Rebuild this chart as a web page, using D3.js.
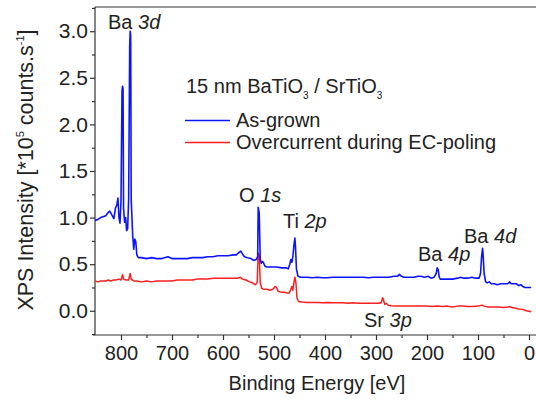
<!DOCTYPE html>
<html><head><meta charset="utf-8">
<script src="https://cdn.jsdelivr.net/npm/d3@7"></script>
<style>body{margin:0;background:#fff}svg{display:block}text{font-family:"Liberation Sans",Arial,sans-serif;fill:#222}</style>
</head><body><svg id="c" width="536" height="401"></svg>
<script>
const xTicks=[800,700,600,500,400,300,200,100,0];
const yTicks=[0.0,0.5,1.0,1.5,2.0,2.5,3.0];
const seriesNames=["As-grown","Overcurrent during EC-poling"];
const seriesColors=["#0a14ff","#ff1e1e"];
const asGrown=[[851,0.97],[845,0.98],[840,1.00],[835,1.01],[830,1.02],[826,1.05],[822,1.07],[818,1.03],[814,0.99],[811,1.10],[808,1.14],[806,1.21],[804,1.00],[802,0.94],[800,1.18],[798,2.36],[797,2.41],[796,2.38],[795,1.10],[793,0.95],[791,1.00],[789,0.86],[787,0.88],[785,1.20],[783,2.83],[782,3.00],[781,2.95],[780,1.19],[777,0.80],[775,0.66],[773,0.77],[771,0.74],[769,0.60],[766,0.57],[760,0.57],[750,0.56],[740,0.57],[730,0.56],[720,0.56],[708,0.58],[700,0.56],[690,0.56],[680,0.56],[670,0.56],[660,0.57],[650,0.57],[640,0.57],[630,0.58],[620,0.58],[610,0.59],[600,0.59],[590,0.59],[580,0.60],[574,0.60],[570,0.62],[565,0.64],[562,0.61],[558,0.58],[552,0.57],[545,0.56],[540,0.54],[535,0.55],[532,0.58],[531,1.11],[529,1.05],[527,0.55],[525,0.51],[523,0.53],[521,0.52],[518,0.48],[514,0.47],[505,0.47],[495,0.47],[485,0.46],[476,0.46],[472,0.45],[469,0.50],[467,0.55],[465,0.52],[463,0.58],[461,0.70],[459,0.78],[458,0.70],[456,0.45],[453,0.37],[448,0.36],[445,0.36],[435,0.36],[425,0.355],[415,0.36],[405,0.355],[395,0.355],[385,0.36],[375,0.36],[365,0.36],[355,0.36],[345,0.36],[335,0.36],[325,0.36],[315,0.355],[305,0.36],[295,0.36],[285,0.36],[275,0.36],[265,0.37],[258,0.37],[254,0.39],[250,0.37],[245,0.36],[235,0.36],[225,0.36],[218,0.37],[212,0.37],[205,0.36],[198,0.37],[192,0.35],[186,0.36],[182,0.40],[180,0.46],[178,0.44],[176,0.36],[174,0.34],[168,0.34],[160,0.34],[150,0.34],[140,0.35],[134,0.36],[128,0.35],[120,0.35],[112,0.36],[105,0.35],[98,0.35],[95,0.40],[93,0.58],[91,0.67],[90,0.60],[88,0.40],[85,0.31],[82,0.30],[78,0.31],[74,0.29],[68,0.29],[62,0.28],[55,0.29],[48,0.29],[42,0.29],[38,0.31],[35,0.29],[30,0.29],[25,0.29],[20,0.27],[16,0.28],[12,0.26],[8,0.25],[4,0.25],[0,0.25],[-4,0.25]];
const overcurrent=[[851,0.32],[845,0.31],[840,0.32],[835,0.32],[830,0.32],[825,0.33],[820,0.32],[815,0.33],[810,0.33],[805,0.34],[800,0.33],[797,0.39],[795,0.34],[790,0.33],[785,0.33],[782,0.40],[780,0.34],[775,0.32],[770,0.32],[760,0.31],[750,0.32],[740,0.31],[730,0.32],[720,0.32],[710,0.32],[700,0.32],[690,0.33],[680,0.33],[670,0.33],[660,0.33],[650,0.34],[640,0.34],[630,0.34],[620,0.35],[610,0.35],[600,0.35],[590,0.35],[580,0.35],[572,0.35],[566,0.36],[562,0.34],[555,0.33],[548,0.31],[542,0.30],[537,0.28],[533,0.30],[531,0.62],[529,0.60],[527,0.30],[524,0.24],[520,0.23],[514,0.23],[508,0.22],[502,0.23],[498,0.26],[495,0.25],[492,0.21],[486,0.20],[480,0.20],[475,0.19],[470,0.19],[467,0.23],[465,0.26],[463,0.22],[461,0.30],[459,0.36],[457,0.30],[455,0.14],[452,0.10],[445,0.095],[435,0.09],[425,0.09],[415,0.09],[405,0.085],[395,0.09],[385,0.085],[375,0.085],[365,0.085],[355,0.08],[345,0.085],[335,0.08],[325,0.08],[315,0.08],[305,0.08],[295,0.08],[290,0.085],[287,0.14],[285,0.11],[283,0.07],[280,0.08],[276,0.06],[270,0.055],[262,0.05],[250,0.05],[240,0.05],[230,0.05],[220,0.05],[210,0.05],[200,0.05],[190,0.045],[180,0.05],[170,0.045],[160,0.05],[150,0.04],[140,0.05],[130,0.05],[120,0.045],[110,0.045],[100,0.05],[92,0.06],[88,0.05],[80,0.04],[70,0.04],[60,0.04],[50,0.035],[42,0.04],[38,0.045],[34,0.035],[28,0.03],[20,0.02],[12,0.015],[6,0.0],[0,-0.005],[-4,-0.01]];

const FS=20;
const svg=d3.select("#c");
const L=95,T=7,B=335,R=539.2;
const x=d3.scaleLinear().domain([851,-20]).range([L,R]);
const y=d3.scaleLinear().domain([-0.26,3.26]).range([B,T]);
const axisCol="#333";

// frame
svg.append("line").attr("x1",L).attr("x2",536).attr("y1",T).attr("y2",T).attr("stroke",axisCol).attr("stroke-width",1.2);

// x axis
const xa=svg.append("g").attr("transform",`translate(0,${B})`)
 .call(d3.axisBottom(x).tickValues(xTicks).tickFormat(d3.format("d")).tickSize(5).tickPadding(6));
const xm=svg.append("g").attr("transform",`translate(0,${B})`)
 .call(d3.axisBottom(x).tickValues([750,650,550,450,350,250,150,50]).tickFormat("").tickSize(3));
xm.select(".domain").remove();
// y axis
const ya=svg.append("g").attr("transform",`translate(${L},0)`)
 .call(d3.axisLeft(y).tickValues(yTicks).tickFormat(d3.format(".1f")).tickSize(5).tickPadding(2));
const ym=svg.append("g").attr("transform",`translate(${L},0)`)
 .call(d3.axisLeft(y).tickValues([-0.25,0.25,0.75,1.25,1.75,2.25,2.75,3.25]).tickFormat("").tickSize(3));
ym.select(".domain").remove();
[xa,ya,xm,ym].forEach(g=>{
  g.selectAll("path,line").attr("stroke",axisCol).attr("stroke-width",1.2);
  g.selectAll("text").attr("font-size",FS).attr("fill","#222").attr("font-family","Liberation Sans, Arial, sans-serif");
});
ya.selectAll("text").attr("font-size",21);
xa.select(".domain").attr("d",`M${L-2},0H536`);
ya.select(".domain").attr("d",`M0,${B}V${T}`);

// lines
const line=d3.line().x(d=>x(d[0])).y(d=>y(d[1]));
svg.append("path").datum(overcurrent).attr("d",line).attr("fill","none").attr("stroke",seriesColors[1]).attr("stroke-width",1.5).attr("stroke-linejoin","round");
svg.append("path").datum(asGrown).attr("d",line).attr("fill","none").attr("stroke",seriesColors[0]).attr("stroke-width",1.6).attr("stroke-linejoin","round");

// peak labels
function peak(xp,yp,a,b){
  const t=svg.append("text").attr("x",xp).attr("y",yp).attr("font-size",FS);
  t.append("tspan").text(a);
  t.append("tspan").attr("font-style","italic").text(b);
}
peak(108,28.5,"Ba ","3d");
peak(239,202,"O ","1s");
peak(283,227.5,"Ti ","2p");
peak(418,261,"Ba ","4p");
peak(464,242.5,"Ba ","4d");
peak(364,326.5,"Sr ","3p");

// legend
const lt=svg.append("text").attr("x",186).attr("y",93).attr("font-size",FS);
lt.append("tspan").text("15 nm BaTiO");
lt.append("tspan").attr("font-size",10).attr("dy",6).text("3");
lt.append("tspan").attr("dy",-6).text(" / SrTiO");
lt.append("tspan").attr("font-size",10).attr("dy",6).text("3");
seriesNames.forEach((n,i)=>{
  const yy=[120.5,142.5][i];
  svg.append("line").attr("x1",185).attr("x2",230).attr("y1",yy).attr("y2",yy).attr("stroke",seriesColors[i]).attr("stroke-width",1.6);
  svg.append("text").attr("x",236).attr("y",yy+6.5).attr("font-size",FS).text(n);
});

// axis titles
svg.append("text").attr("x",317).attr("y",390).attr("text-anchor","middle").attr("font-size",FS).text("Binding Energy [eV]");
const yl=svg.append("text").attr("transform","translate(33,170) rotate(-90)").attr("text-anchor","middle").attr("font-size",21.5);
yl.append("tspan").text("XPS Intensity [*10");
yl.append("tspan").attr("font-size",11).attr("dy",-9).text("5");
yl.append("tspan").attr("dy",9).text(" counts.s");
yl.append("tspan").attr("font-size",11).attr("dy",-9).text("-1");
yl.append("tspan").attr("dy",9).text("]");
</script></body></html>
